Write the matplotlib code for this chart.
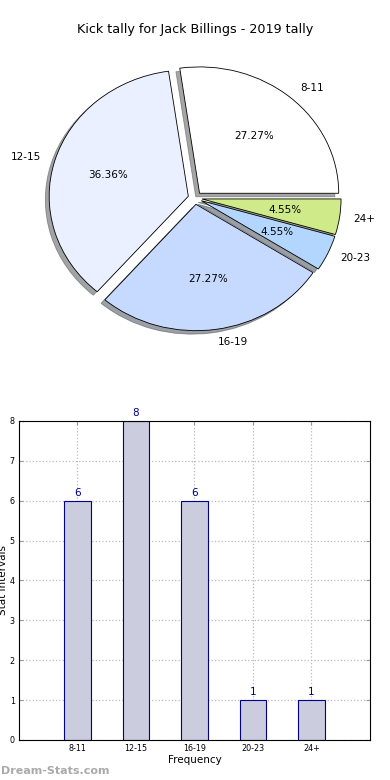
import matplotlib
matplotlib.use("Agg")
import matplotlib.pyplot as plt

categories = ["8-11", "12-15", "16-19", "20-23", "24+"]
counts = [6, 8, 6, 1, 1]
pie_colors = ["#ffffff", "#eaf0ff", "#c6d9ff", "#b3d6ff", "#cfea88"]
title = "Kick tally for Jack Billings - 2019 tally"

fig = plt.figure(figsize=(3.9, 7.8), dpi=100)

# Pie chart
axp = fig.add_axes([0.054, 0.5436, 0.892, 0.405])
wedges, texts, autotexts = axp.pie(
    counts, labels=categories, colors=pie_colors, explode=[0.05] * 5,
    startangle=0, autopct="%.2f%%", shadow=True,
    wedgeprops=dict(edgecolor="black", linewidth=0.6),
    textprops=dict(fontsize=7.5),
)
axp.set_aspect("auto")
axp.set_xlim(-1.25, 1.25)
axp.set_ylim(-1.25, 1.25)
axp.axis("off")
fig.text(0.5, 1 - 30 / 780, title, ha="center", va="center", fontsize=9.2)

# Bar chart
axb = fig.add_axes([0.0487, 0.0513, 0.9, 0.409])
x = list(range(len(categories)))
bars = axb.bar(x, counts, width=0.45, color="#ccccdf", edgecolor="#00008b",
               linewidth=0.8, zorder=2)
for xi, v in zip(x, counts):
    axb.text(xi, v + 0.08, str(v), ha="center", va="bottom", fontsize=7.5,
             color="#00008b")
axb.set_xlim(-1, 5)
axb.set_ylim(0, 8)
axb.set_xticks(x)
axb.set_xticklabels(categories)
axb.set_yticks(range(0, 9))
axb.tick_params(labelsize=5.8, direction="in", top=True, right=True,
                length=3, color="#999999", pad=3)
axb.grid(True, linestyle=":", color="#bbbbbb", linewidth=0.9, zorder=0)
axb.set_axisbelow(True)
axb.set_xlabel("Frequency", fontsize=7.5, labelpad=1)
axb.set_ylabel("Stat Intervals", fontsize=7.5)
axb.yaxis.set_label_coords(-0.03, 0.5)
for s in axb.spines.values():
    s.set_linewidth(0.8)

fig.text(0.002, 1 - 771 / 780, "Dream-Stats.com", ha="left", va="center",
         fontsize=8, color="#aaaaaa", fontweight="bold")

fig.savefig("out.png", dpi=100)
